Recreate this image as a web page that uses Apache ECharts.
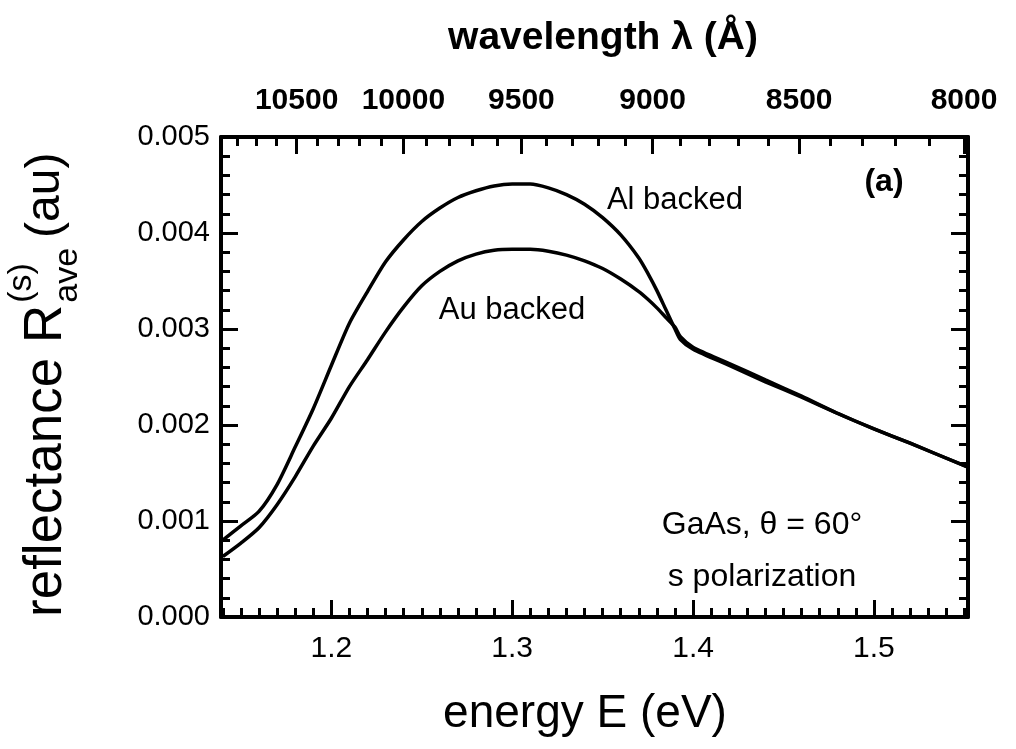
<!DOCTYPE html>
<html>
<head>
<meta charset="utf-8">
<script src="https://cdn.jsdelivr.net/npm/echarts@6/dist/echarts.min.js"></script>
<style>
  html, body { margin: 0; padding: 0; background: #fff; }
  #chart { width: 1016px; height: 749px; }
</style>
</head>
<body>
<div id="chart"></div>
<script>
// values: energy (eV) -> reflectance (au)
const energy = [1.14, 1.15, 1.16, 1.17, 1.18, 1.19, 1.20, 1.21, 1.22, 1.23, 1.24, 1.25, 1.26, 1.27, 1.28, 1.29, 1.30, 1.31, 1.32, 1.33, 1.34, 1.35, 1.36, 1.37, 1.375, 1.38, 1.385, 1.39, 1.393, 1.40, 1.42, 1.44, 1.46, 1.48, 1.50, 1.52, 1.552]
const alBacked = [0.00080, 0.00095, 0.00110, 0.00138, 0.00177, 0.00217, 0.00262, 0.00306, 0.00339, 0.00370, 0.00393, 0.00412, 0.00426, 0.00437, 0.00444, 0.00449, 0.00451, 0.00451, 0.00447, 0.00440, 0.00430, 0.00416, 0.00398, 0.00374, 0.00358, 0.00340, 0.00320, 0.00300, 0.00289, 0.00279, 0.00262, 0.00245, 0.00229, 0.00212, 0.00196, 0.00181, 0.00156]
const auBacked = [0.00063, 0.00077, 0.00093, 0.00117, 0.00146, 0.00178, 0.00207, 0.00240, 0.00268, 0.00297, 0.00323, 0.00345, 0.00360, 0.00371, 0.00378, 0.00382, 0.00383, 0.00383, 0.00381, 0.00377, 0.00371, 0.00363, 0.00352, 0.00339, 0.00331, 0.00322, 0.00312, 0.00302, 0.00292, 0.00281, 0.00264, 0.00247, 0.00230, 0.00212, 0.00196, 0.00181, 0.00156]

const energyTicks = [1.2, 1.3, 1.4, 1.5]
const wavelengthTicks = [10500, 10000, 9500, 9000, 8500, 8000]

const xMin = 1.139
const xMax = 1.552
const hc = 12398.4 // eV * Angstrom

// minor tick positions
const energyMinor = []
for (let i = 114; i <= 155; i++) energyMinor.push(i / 100)
const waveMinor = []
for (let l = 10800; l >= 8000; l -= 100) waveMinor.push(hc / l)

const toPairs = (xs, ys) => xs.map((x, i) => [x, ys[i]])

const FONT = '"Liberation Sans", Arial, Helvetica, sans-serif'

// y axis title with stacked super/subscript
const ctx = document.createElement('canvas').getContext('2d')
ctx.font = '53px "Liberation Sans"'
const wMain = ctx.measureText('reflectance R').width
ctx.font = '34px "Liberation Sans"'
const wAve = ctx.measureText('ave').width

const chart = echarts.init(document.getElementById('chart'))

const frameLine = { lineStyle: { color: '#000', width: 4 } }
const tickStyle = { width: 3, color: '#000' }

const option = {
  animation: false,
  backgroundColor: '#fff',
  grid: { left: 221, right: 48, top: 137, bottom: 132 },
  xAxis: [
    {
      type: 'value', position: 'bottom', min: xMin, max: xMax,
      axisLine: frameLine,
      axisTick: { inside: true, length: 17, lineStyle: tickStyle, customValues: energyTicks },
      axisLabel: { customValues: energyTicks, formatter: v => v.toFixed(1), fontSize: 30, color: '#000', fontFamily: FONT, margin: 17 },
      splitLine: { show: false }
    },
    {
      type: 'value', position: 'bottom', min: xMin, max: xMax,
      axisLine: { show: false },
      axisTick: { inside: true, length: 9, lineStyle: tickStyle, customValues: energyMinor },
      axisLabel: { show: false },
      splitLine: { show: false }
    },
    {
      type: 'value', position: 'top', min: xMin, max: xMax,
      axisLine: frameLine,
      axisTick: { inside: true, length: 17, lineStyle: tickStyle, customValues: wavelengthTicks.map(l => hc / l) },
      axisLabel: {
        customValues: wavelengthTicks.map(l => hc / l),
        formatter: v => String(Math.round(hc / v / 100) * 100),
        fontSize: 30, fontWeight: 'bold', color: '#000', fontFamily: FONT, margin: 21
      },
      splitLine: { show: false }
    },
    {
      type: 'value', position: 'top', min: xMin, max: xMax,
      axisLine: { show: false },
      axisTick: { inside: true, length: 9, lineStyle: tickStyle, customValues: waveMinor },
      axisLabel: { show: false },
      splitLine: { show: false }
    }
  ],
  yAxis: [
    {
      type: 'value', position: 'left', min: 0, max: 0.005, interval: 0.001,
      axisLine: frameLine,
      axisTick: { inside: true, length: 17, lineStyle: tickStyle },
      minorTick: { show: true, splitNumber: 5, length: 9, lineStyle: tickStyle },
      axisLabel: { formatter: v => v.toFixed(3), fontSize: 29, color: '#000', fontFamily: FONT, margin: 11 },
      splitLine: { show: false }
    },
    {
      type: 'value', position: 'right', min: 0, max: 0.005, interval: 0.001,
      axisLine: frameLine,
      axisTick: { inside: true, length: 17, lineStyle: tickStyle },
      minorTick: { show: true, splitNumber: 5, length: 9, lineStyle: tickStyle },
      axisLabel: { show: false },
      splitLine: { show: false }
    }
  ],
  series: [
    {
      name: 'Al backed', type: 'line', xAxisIndex: 0, yAxisIndex: 0,
      data: toPairs(energy, alBacked), showSymbol: false, smooth: 0.25,
      lineStyle: { color: '#000', width: 3.5 }
    },
    {
      name: 'Au backed', type: 'line', xAxisIndex: 0, yAxisIndex: 0,
      data: toPairs(energy, auBacked), showSymbol: false, smooth: 0.25,
      lineStyle: { color: '#000', width: 3.5 }
    }
  ],
  graphic: [
    { type: 'text', x: 603, y: 38, style: { text: 'wavelength λ (Å)', fontSize: 39, fontWeight: 'bold', fontFamily: FONT, fill: '#000', align: 'center', verticalAlign: 'middle' } },
    { type: 'text', x: 585, y: 714, style: { text: 'energy E (eV)', fontSize: 46, fontFamily: FONT, fill: '#000', align: 'center', verticalAlign: 'middle' } },
    { type: 'text', x: 675, y: 200, style: { text: 'Al backed', fontSize: 31, fontFamily: FONT, fill: '#000', align: 'center', verticalAlign: 'middle' } },
    { type: 'text', x: 512, y: 310, style: { text: 'Au backed', fontSize: 31, fontFamily: FONT, fill: '#000', align: 'center', verticalAlign: 'middle' } },
    { type: 'text', x: 884, y: 182, style: { text: '(a)', fontSize: 32, fontWeight: 'bold', fontFamily: FONT, fill: '#000', align: 'center', verticalAlign: 'middle' } },
    { type: 'text', x: 762, y: 525, style: { text: 'GaAs, θ = 60°', fontSize: 32, fontFamily: FONT, fill: '#000', align: 'center', verticalAlign: 'middle' } },
    { type: 'text', x: 762, y: 577, style: { text: 's polarization', fontSize: 32, fontFamily: FONT, fill: '#000', align: 'center', verticalAlign: 'middle' } },
    {
      type: 'group', x: 46, y: 617, rotation: Math.PI / 2,
      children: [
        { type: 'text', x: 0, y: 0, style: { text: 'reflectance R', fontSize: 53, fontFamily: FONT, fill: '#000', align: 'left', verticalAlign: 'middle' } },
        { type: 'text', x: wMain + 2, y: -24, style: { text: '(s)', fontSize: 34, fontFamily: FONT, fill: '#000', align: 'left', verticalAlign: 'middle' } },
        { type: 'text', x: wMain + 2, y: 22, style: { text: 'ave', fontSize: 34, fontFamily: FONT, fill: '#000', align: 'left', verticalAlign: 'middle' } },
        { type: 'text', x: wMain + wAve + 12, y: 0, style: { text: '(au)', fontSize: 48, fontFamily: FONT, fill: '#000', align: 'left', verticalAlign: 'middle' } }
      ]
    }
  ]
}

chart.setOption(option)
</script>
</body>
</html>
